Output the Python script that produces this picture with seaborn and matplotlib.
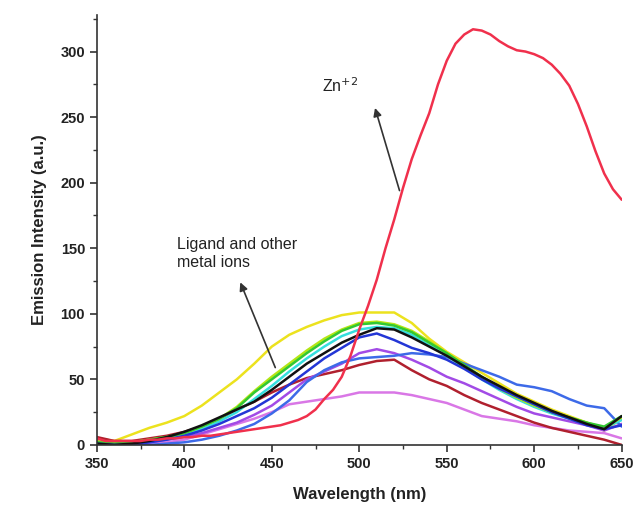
import numpy as np
import pandas as pd
import matplotlib
matplotlib.use("Agg")
import matplotlib.pyplot as plt
import seaborn as sns
from matplotlib.ticker import MultipleLocator

wavelength = [350, 360, 370, 380, 390, 400, 410, 420, 430, 440, 450, 460, 470, 480, 490, 500,
              510, 520, 530, 540, 550, 560, 570, 580, 590, 600, 610, 620, 630, 640, 650]

yellow = [5, 3, 8, 13, 17, 22, 30, 40, 50, 62, 75, 84, 90, 95, 99, 101,
          101, 101, 93, 81, 71, 63, 55, 47, 39, 33, 27, 22, 17, 11, 20]
green = [2, 1, 2, 4, 6, 9, 14, 20, 28, 40, 50, 60, 70, 79, 87, 92,
         93, 91, 86, 78, 70, 61, 52, 44, 37, 31, 25, 21, 17, 14, 22]
lime = [3, 1, 2, 4, 6, 9, 14, 20, 29, 41, 52, 62, 72, 81, 88, 93,
        94, 92, 87, 79, 70, 60, 51, 43, 36, 30, 25, 21, 17, 13, 21]
cyan = [1, 0, 1, 3, 5, 8, 12, 18, 25, 35, 45, 56, 66, 75, 83, 88,
        90, 89, 84, 76, 68, 59, 50, 42, 35, 29, 24, 20, 16, 13, 19]
black = [1, 0, 1, 3, 6, 10, 15, 21, 27, 33, 42, 52, 62, 70, 78, 84,
         89, 88, 82, 75, 68, 60, 52, 45, 38, 32, 26, 21, 16, 12, 22]
navy = [1, 0, 0, 2, 4, 7, 11, 16, 22, 28, 36, 46, 56, 66, 74, 82,
        85, 80, 74, 70, 65, 58, 50, 43, 37, 31, 25, 20, 15, 12, 15]
royal = [0, 0, 0, 0, 1, 2, 4, 7, 11, 16, 24, 34, 48, 57, 63, 66,
         67, 68, 70, 69, 67, 62, 57, 52, 46, 44, 41, 35, 30, 28, 14]
violet = [2, 0, 1, 2, 4, 6, 9, 13, 17, 23, 30, 40, 50, 56, 62, 70,
          73, 70, 65, 59, 52, 47, 41, 35, 29, 24, 21, 18, 15, 11, 16]
maroon = [6, 3, 3, 5, 7, 10, 14, 20, 27, 33, 40, 46, 51, 54, 57, 61,
          64, 65, 57, 50, 45, 38, 32, 27, 22, 17, 13, 10, 7, 4, 0]
orchid = [0, 0, 0, 1, 2, 4, 8, 12, 16, 20, 25, 31, 33, 35, 37, 40,
          40, 40, 38, 35, 32, 27, 22, 20, 18, 15, 13, 11, 10, 9, 5]

zinc_wavelength = [350, 355, 360, 365, 370, 375, 380, 385, 390, 395, 400, 405, 410, 415, 420, 425,
                   430, 435, 440, 445, 450, 455, 460, 465, 470, 475, 480, 485, 490, 495, 500, 505,
                   510, 515, 520, 525, 530, 535, 540, 545, 550, 555, 560, 565, 570, 575, 580, 585,
                   590, 595, 600, 605, 610, 615, 620, 625, 630, 635, 640, 645, 650]
zinc = [5, 3, 3, 3, 3, 3, 4, 4, 5, 5, 6, 6, 7, 7, 8, 9,
        10, 11, 12, 13, 14, 15, 17, 19, 22, 27, 35, 42, 52, 68, 88, 106,
        126, 150, 172, 196, 218, 236, 253, 275, 293, 306, 313, 317, 316, 313, 308, 304,
        301, 300, 298, 295, 290, 283, 274, 260, 243, 224, 207, 195, 187]

series = {
    "yellow": (wavelength, yellow, "#ece21e"),
    "orchid": (wavelength, orchid, "#d977e6"),
    "maroon": (wavelength, maroon, "#b0202e"),
    "violet": (wavelength, violet, "#a24be6"),
    "royal": (wavelength, royal, "#3d6ae8"),
    "cyan": (wavelength, cyan, "#35dede"),
    "lime": (wavelength, lime, "#b4e614"),
    "green": (wavelength, green, "#32c832"),
    "navy": (wavelength, navy, "#2336d6"),
    "black": (wavelength, black, "#111111"),
    "Zn": (zinc_wavelength, zinc, "#f0304c"),
}

rows = []
for name, (xs, vals, _) in series.items():
    for w, v in zip(xs, vals):
        rows.append({"Wavelength": w, "Intensity": v, "series": name})
df = pd.DataFrame(rows)
palette = {k: c for k, (_, _, c) in series.items()}

sns.set_style("ticks")
plt.rcParams["font.family"] = ["Liberation Sans", "DejaVu Sans"]

fig = plt.figure(figsize=(6.37, 5.12), dpi=100)
ax = fig.add_axes([0.152, 0.131, 0.824, 0.840])

sns.lineplot(data=df, x="Wavelength", y="Intensity", hue="series", palette=palette,
             hue_order=list(series.keys()), linewidth=1.8, legend=False, ax=ax)

ax.set_xlim(350, 650)
ax.set_ylim(0, 328)
ax.xaxis.set_major_locator(MultipleLocator(50))
ax.xaxis.set_minor_locator(MultipleLocator(25))
ax.yaxis.set_major_locator(MultipleLocator(50))
ax.yaxis.set_minor_locator(MultipleLocator(25))
ax.tick_params(which="major", length=5, width=1.2, colors="#333333", labelcolor="#222222",
               labelsize=10.5, direction="out")
ax.tick_params(which="minor", length=3, width=1.0, colors="#333333", direction="out")
for lab in ax.get_xticklabels() + ax.get_yticklabels():
    lab.set_fontweight("bold")
sns.despine(ax=ax)
for s in ["left", "bottom"]:
    ax.spines[s].set_linewidth(1.2)
    ax.spines[s].set_color("#333333")

ax.set_xlabel("Wavelength (nm)", fontsize=12, fontweight="bold", labelpad=12, color="#222222")
ax.set_ylabel("Emission Intensity (a.u.)", fontsize=12, fontweight="bold", labelpad=10, color="#222222")

arrow_kw = dict(arrowstyle="-|>", color="#333333", lw=1.2, mutation_scale=12, shrinkA=0, shrinkB=0)
ax.text(489, 274, "Zn$^{+2}$", fontsize=11.5, ha="center", va="center", color="#222222")
ax.annotate("", xy=(509, 257), xytext=(523, 194), arrowprops=arrow_kw)
ax.text(396, 146, "Ligand and other\nmetal ions", fontsize=11.5, ha="left", va="center",
        color="#222222", linespacing=1.3)
ax.annotate("", xy=(432, 124), xytext=(452, 59), arrowprops=arrow_kw)

fig.savefig("out.png", dpi=100)
